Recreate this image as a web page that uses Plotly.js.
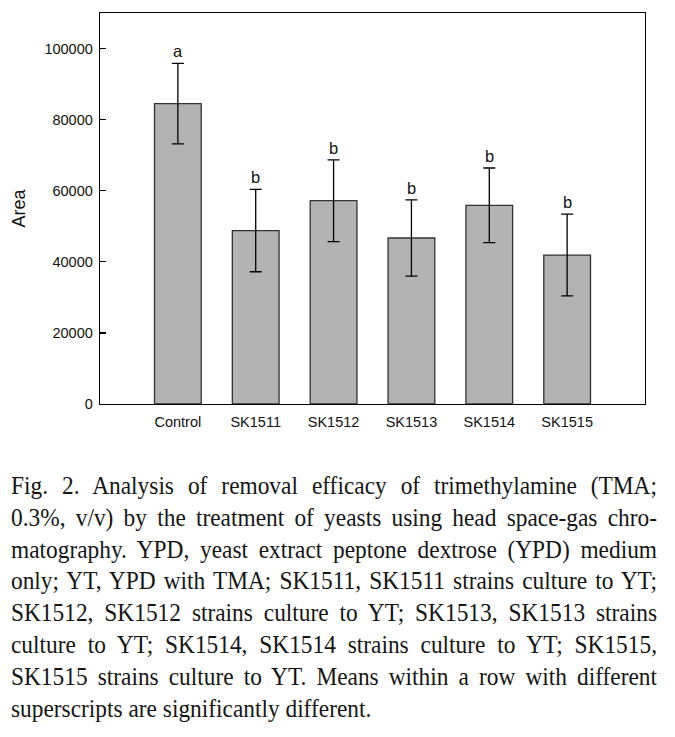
<!DOCTYPE html>
<html>
<head>
<meta charset="utf-8">
<script src="https://cdn.plot.ly/plotly-3.0.1.min.js"></script>
<style>
  html, body { margin: 0; padding: 0; background: #fff; }
  #wrap { position: relative; width: 675px; height: 737px; overflow: hidden; }
  #chart { position: absolute; left: 0; top: 0; width: 675px; height: 450px; }
  #caption { position: absolute; left: 11px; top: 470px; width: 680px;
    transform: scaleX(0.95); transform-origin: 0 0;
    font-family: "Liberation Serif", "Times New Roman", serif; font-size: 24.6px;
    line-height: 31.8px; color: #151515; }
  #caption div { white-space: nowrap; text-align: justify; text-align-last: justify; }
  #caption div.last { text-align: left; text-align-last: left; }
</style>
</head>
<body>
<div id="wrap">
  <div id="chart"></div>
  <div id="caption"></div>
</div>
<script>
// Data
const categories = ["Control", "SK1511", "SK1512", "SK1513", "SK1514", "SK1515"];
const meanArea = [84500, 48800, 57200, 46700, 55900, 41900];
const errArea = [11300, 11600, 11500, 10750, 10500, 11500];
const groupLetters = ["a", "b", "b", "b", "b", "b"];
const yTicks = [0, 20000, 40000, 60000, 80000, 100000];
const captionLines = [
  "Fig. 2. Analysis of removal efficacy of trimethylamine (TMA;",
  "0.3%, v/v) by the treatment of yeasts using head space-gas chro-",
  "matography. YPD, yeast extract peptone dextrose (YPD) medium",
  "only; YT, YPD with TMA; SK1511, SK1511 strains culture to YT;",
  "SK1512, SK1512 strains culture to YT; SK1513, SK1513 strains",
  "culture to YT; SK1514, SK1514 strains culture to YT; SK1515,",
  "SK1515 strains culture to YT. Means within a row with different",
  "superscripts are significantly different."
];

const trace = {
  type: "bar",
  x: categories,
  y: meanArea,
  width: 0.6,
  marker: { color: "#b3b3b3", line: { color: "#333333", width: 1.3 } },
  error_y: { type: "data", array: errArea, visible: true, color: "#000", thickness: 1.3, width: 6 },
  hoverinfo: "x+y"
};

const annotations = categories.map((c, i) => ({
  x: c, y: meanArea[i] + errArea[i], xref: "x", yref: "y",
  text: groupLetters[i], showarrow: false, yanchor: "bottom", yshift: 1,
  font: { family: "Liberation Sans, Arial, sans-serif", size: 16.5, color: "#111" }
}));

const layout = {
  width: 675, height: 450,
  margin: { l: 100, r: 30, t: 13, b: 46 },
  paper_bgcolor: "#fff", plot_bgcolor: "#fff",
  showlegend: false,
  font: { family: "Liberation Sans, Arial, sans-serif", size: 14.5, color: "#111" },
  xaxis: {
    type: "category", range: [-1, 6],
    showline: true, mirror: true, linecolor: "#000", linewidth: 1.3,
    ticks: "", showgrid: false, zeroline: false, ticklabelstandoff: 4,
    tickfont: { size: 14.5, color: "#111" }
  },
  yaxis: {
    range: [0, 110000], tickvals: yTicks, tickformat: "d",
    ticks: "inside", ticklen: 6, tickwidth: 1.3, tickcolor: "#000",
    showline: true, mirror: true, linecolor: "#000", linewidth: 1.3,
    showgrid: false, zeroline: false, ticklabelstandoff: 3,
    tickfont: { size: 14.5, color: "#111" },
    title: { text: "Area", font: { size: 18, color: "#111" }, standoff: 14 }
  },
  annotations: annotations
};

Plotly.newPlot("chart", [trace], layout, { staticPlot: true, displayModeBar: false });

const cap = document.getElementById("caption");
captionLines.forEach((t, i) => {
  const d = document.createElement("div");
  d.textContent = t;
  if (i === captionLines.length - 1) d.className = "last";
  cap.appendChild(d);
});
</script>
</body>
</html>
